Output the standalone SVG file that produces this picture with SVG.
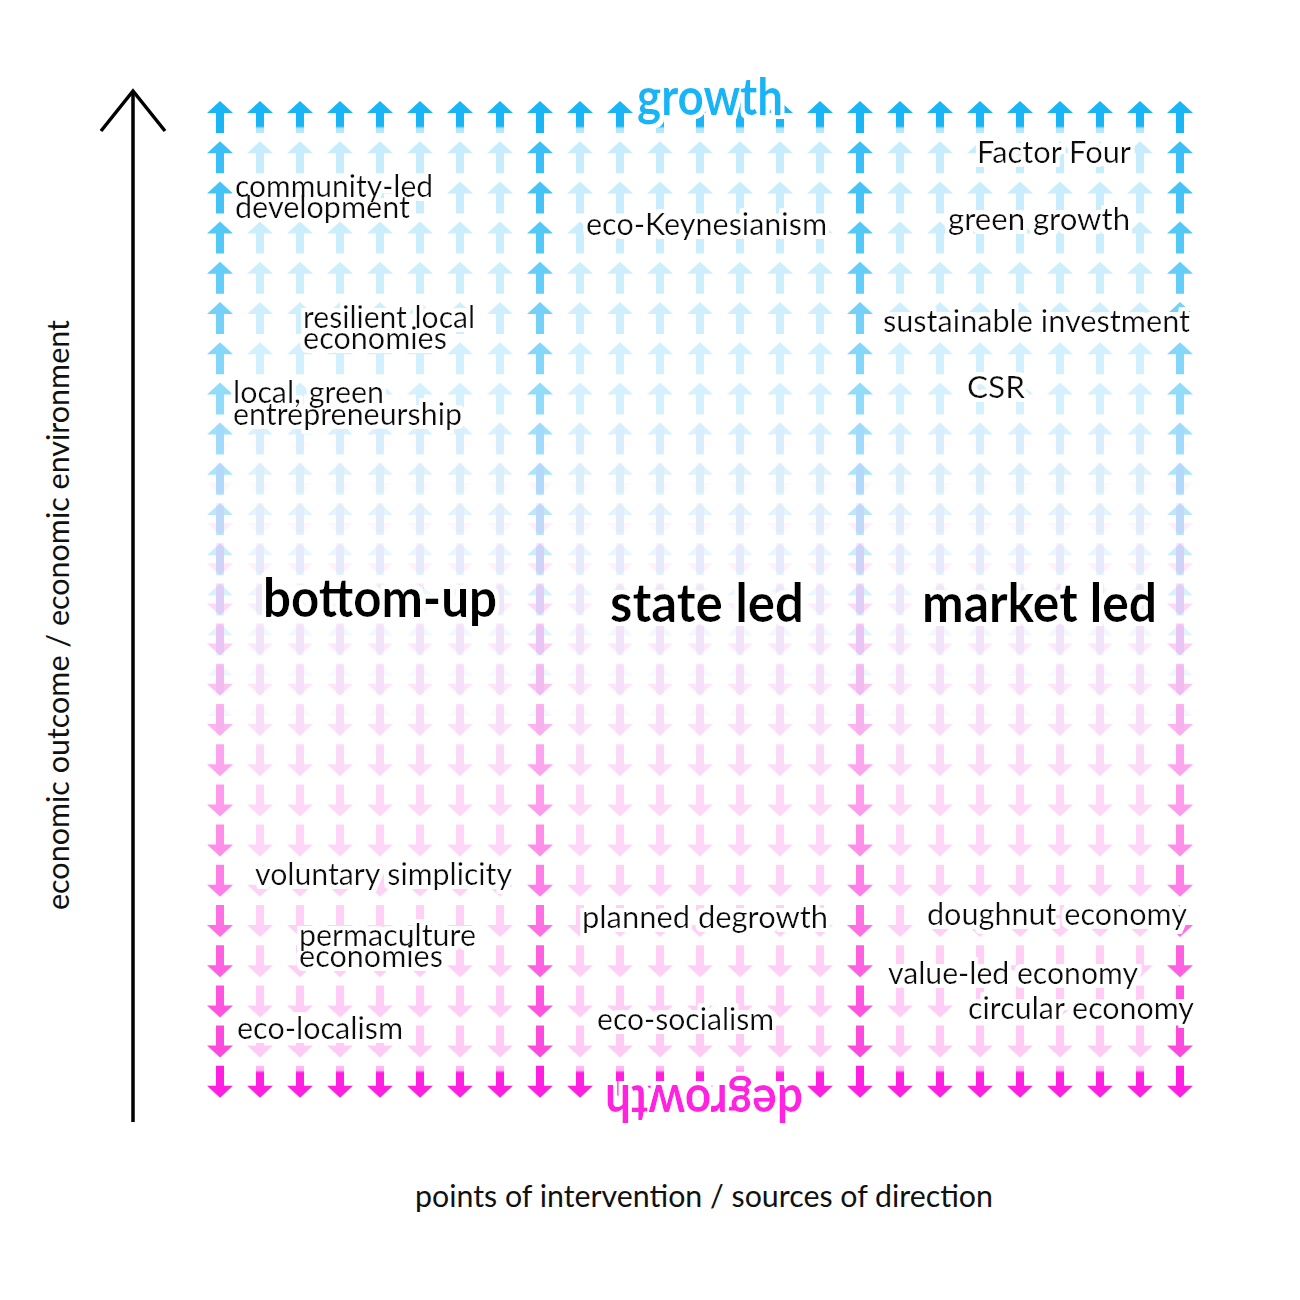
<svg xmlns="http://www.w3.org/2000/svg" xmlns:xlink="http://www.w3.org/1999/xlink" width="1300" height="1300" viewBox="0 0 1300 1300">
<style>
.lb{font-family:Lato,"Open Sans","Liberation Sans",sans-serif;font-size:30px;fill:#111}
.big{font-family:Lato,"Open Sans","Liberation Sans",sans-serif;font-size:54px;font-weight:700;fill:#000}
.pole{font-family:Lato,"Open Sans","Liberation Sans",sans-serif;font-size:52px;font-weight:700}
.ax{font-family:Lato,"Open Sans","Liberation Sans",sans-serif;font-size:30px;fill:#111}
.h{filter:url(#halo)}
.b{fill:#19b5f5}
.p{fill:#ff2ad8}
</style>
<defs>
<filter id="halo" x="-10%" y="-30%" width="120%" height="160%">
<feMorphology in="SourceAlpha" operator="dilate" radius="3.5" result="d"/>
<feFlood flood-color="#fff"/>
<feComposite in2="d" operator="in"/>
<feMerge><feMergeNode/><feMergeNode in="SourceGraphic"/></feMerge>
</filter>
<linearGradient id="gu" x1="0" y1="0" x2="0" y2="1">
<stop offset="0" stop-color="#19b5f5"/><stop offset="0.78" stop-color="#19b5f5"/><stop offset="0.86" stop-color="#19b5f5" stop-opacity="0.35"/><stop offset="1" stop-color="#19b5f5" stop-opacity="0.3"/>
</linearGradient>
<linearGradient id="gd" x1="0" y1="1" x2="0" y2="0">
<stop offset="0" stop-color="#ff1fe0"/><stop offset="0.78" stop-color="#ff1fe0"/><stop offset="0.86" stop-color="#ff1fe0" stop-opacity="0.35"/><stop offset="1" stop-color="#ff1fe0" stop-opacity="0.3"/>
</linearGradient>
<path id="au" d="M0,-16 L13,-4 L4,-4 L4,16 L-4,16 L-4,-4 L-13,-4 Z"/>
<path id="ad" d="M0,16 L13,4 L4,4 L4,-16 L-4,-16 L-4,4 L-13,4 Z"/>
<g id="upN">
<use href="#au" x="260"/><use href="#au" x="300"/><use href="#au" x="340"/><use href="#au" x="380"/><use href="#au" x="420"/><use href="#au" x="460"/><use href="#au" x="500"/>
<use href="#au" x="580"/><use href="#au" x="620"/><use href="#au" x="660"/><use href="#au" x="700"/><use href="#au" x="740"/><use href="#au" x="780"/><use href="#au" x="820"/>
<use href="#au" x="900"/><use href="#au" x="940"/><use href="#au" x="980"/><use href="#au" x="1020"/><use href="#au" x="1060"/><use href="#au" x="1100"/><use href="#au" x="1140"/>
</g>
<g id="upS"><use href="#au" x="220"/><use href="#au" x="540"/><use href="#au" x="860"/><use href="#au" x="1180"/></g>
<g id="dnN">
<use href="#ad" x="260"/><use href="#ad" x="300"/><use href="#ad" x="340"/><use href="#ad" x="380"/><use href="#ad" x="420"/><use href="#ad" x="460"/><use href="#ad" x="500"/>
<use href="#ad" x="580"/><use href="#ad" x="620"/><use href="#ad" x="660"/><use href="#ad" x="700"/><use href="#ad" x="740"/><use href="#ad" x="780"/><use href="#ad" x="820"/>
<use href="#ad" x="900"/><use href="#ad" x="940"/><use href="#ad" x="980"/><use href="#ad" x="1020"/><use href="#ad" x="1060"/><use href="#ad" x="1100"/><use href="#ad" x="1140"/>
</g>
<g id="dnS"><use href="#ad" x="220"/><use href="#ad" x="540"/><use href="#ad" x="860"/><use href="#ad" x="1180"/></g>
</defs>
<rect width="1300" height="1300" fill="#fff"/>
<g id="arrow-field">
<g id="growth-arrows" class="b">
<use href="#upN" y="117" fill="url(#gu)"/><use href="#upS" y="117"/>
<use href="#upN" y="157.2" opacity="0.24"/><use href="#upS" y="157.2" opacity="0.85"/>
<use href="#upN" y="197.4" opacity="0.23"/><use href="#upS" y="197.4" opacity="0.8"/>
<use href="#upN" y="237.6" opacity="0.22"/><use href="#upS" y="237.6" opacity="0.74"/>
<use href="#upN" y="277.8" opacity="0.21"/><use href="#upS" y="277.8" opacity="0.67"/>
<use href="#upN" y="318" opacity="0.2"/><use href="#upS" y="318" opacity="0.6"/>
<use href="#upN" y="358.2" opacity="0.19"/><use href="#upS" y="358.2" opacity="0.53"/>
<use href="#upN" y="398.4" opacity="0.18"/><use href="#upS" y="398.4" opacity="0.47"/>
<use href="#upN" y="438.6" opacity="0.16"/><use href="#upS" y="438.6" opacity="0.41"/>
<use href="#upN" y="478.8" opacity="0.14"/><use href="#upS" y="478.8" opacity="0.35"/>
<use href="#upN" y="519" opacity="0.12"/><use href="#upS" y="519" opacity="0.29"/>
<use href="#upN" y="559.2" opacity="0.1"/><use href="#upS" y="559.2" opacity="0.23"/>
<use href="#upN" y="599.4" opacity="0.08"/><use href="#upS" y="599.4" opacity="0.17"/>
<use href="#upN" y="639.6" opacity="0.06"/><use href="#upS" y="639.6" opacity="0.12"/>
<use href="#upN" y="679.8" opacity="0.04"/><use href="#upS" y="679.8" opacity="0.08"/>
<use href="#upN" y="720" opacity="0.025"/><use href="#upS" y="720" opacity="0.05"/>
<use href="#upN" y="760.2" opacity="0.01"/><use href="#upS" y="760.2" opacity="0.02"/>
</g>
<g id="degrowth-arrows" class="p">
<use href="#dnN" y="438.6" opacity="0.01"/><use href="#dnS" y="438.6" opacity="0.02"/>
<use href="#dnN" y="478.8" opacity="0.025"/><use href="#dnS" y="478.8" opacity="0.05"/>
<use href="#dnN" y="519" opacity="0.04"/><use href="#dnS" y="519" opacity="0.08"/>
<use href="#dnN" y="559.2" opacity="0.06"/><use href="#dnS" y="559.2" opacity="0.12"/>
<use href="#dnN" y="599.4" opacity="0.08"/><use href="#dnS" y="599.4" opacity="0.17"/>
<use href="#dnN" y="639.6" opacity="0.1"/><use href="#dnS" y="639.6" opacity="0.23"/>
<use href="#dnN" y="679.8" opacity="0.12"/><use href="#dnS" y="679.8" opacity="0.29"/>
<use href="#dnN" y="720" opacity="0.14"/><use href="#dnS" y="720" opacity="0.35"/>
<use href="#dnN" y="760.2" opacity="0.16"/><use href="#dnS" y="760.2" opacity="0.41"/>
<use href="#dnN" y="800.4" opacity="0.18"/><use href="#dnS" y="800.4" opacity="0.47"/>
<use href="#dnN" y="840.6" opacity="0.19"/><use href="#dnS" y="840.6" opacity="0.53"/>
<use href="#dnN" y="880.8" opacity="0.2"/><use href="#dnS" y="880.8" opacity="0.6"/>
<use href="#dnN" y="921" opacity="0.21"/><use href="#dnS" y="921" opacity="0.67"/>
<use href="#dnN" y="961.2" opacity="0.22"/><use href="#dnS" y="961.2" opacity="0.74"/>
<use href="#dnN" y="1001.4" opacity="0.23"/><use href="#dnS" y="1001.4" opacity="0.8"/>
<use href="#dnN" y="1041.6" opacity="0.24"/><use href="#dnS" y="1041.6" opacity="0.85"/>
<use href="#dnN" y="1081.8" fill="url(#gd)"/><use href="#dnS" y="1081.8" fill="#ff1fe0"/>
</g>
</g>
<g id="connectors">
<line x1="133" y1="93" x2="133" y2="1122" stroke="#000" stroke-width="3.5"/>
<polyline points="101,131 133,91 165,131" fill="none" stroke="#000" stroke-width="3.5"/>
</g>
<g id="axis-labels">
<text class="ax" transform="translate(69,615) rotate(-90)" text-anchor="middle" textLength="590" lengthAdjust="spacingAndGlyphs">economic outcome / economic environment</text>
<text class="ax" x="415" y="1207" textLength="578" lengthAdjust="spacingAndGlyphs">points of intervention / sources of direction</text>
</g>
<g id="pole-growth" class="h"><text class="pole" x="637" y="115" fill="#19b5f5" textLength="146" lengthAdjust="spacingAndGlyphs">growth</text></g>
<g id="pole-degrowth" class="h"><text class="pole" transform="translate(803,1085) rotate(180)" fill="#ff22e0" textLength="198" lengthAdjust="spacingAndGlyphs">degrowth</text></g>
<g id="col-bottom-up" class="h"><text class="big" x="263" y="617" textLength="234" lengthAdjust="spacingAndGlyphs">bottom-up</text></g>
<g id="col-state-led" class="h"><text class="big" x="610" y="622" textLength="194" lengthAdjust="spacingAndGlyphs">state led</text></g>
<g id="col-market-led" class="h"><text class="big" x="922" y="622" textLength="235" lengthAdjust="spacingAndGlyphs">market led</text></g>
<g id="community-led-development" class="h">
<text class="lb" x="235" y="197" textLength="198" lengthAdjust="spacingAndGlyphs">community-led</text>
<text class="lb" x="235" y="218" textLength="175" lengthAdjust="spacingAndGlyphs">development</text>
</g>
<g id="eco-keynesianism" class="h"><text class="lb" x="586" y="235" textLength="241" lengthAdjust="spacingAndGlyphs">eco-Keynesianism</text></g>
<g id="factor-four" class="h"><text class="lb" x="977" y="163" textLength="154" lengthAdjust="spacingAndGlyphs">Factor Four</text></g>
<g id="green-growth" class="h"><text class="lb" x="948" y="230" textLength="182" lengthAdjust="spacingAndGlyphs">green growth</text></g>
<g id="resilient-local-economies" class="h">
<text class="lb" x="303" y="328" textLength="172" lengthAdjust="spacingAndGlyphs">resilient local</text>
<text class="lb" x="303" y="349" textLength="144" lengthAdjust="spacingAndGlyphs">economies</text>
</g>
<g id="sustainable-investment" class="h"><text class="lb" x="883" y="332" textLength="307" lengthAdjust="spacingAndGlyphs">sustainable investment</text></g>
<g id="csr" class="h"><text class="lb" x="967" y="398" textLength="58" lengthAdjust="spacingAndGlyphs">CSR</text></g>
<g id="local-green-entrepreneurship" class="h">
<text class="lb" x="233" y="403" textLength="151" lengthAdjust="spacingAndGlyphs">local, green</text>
<text class="lb" x="233" y="425" textLength="229" lengthAdjust="spacingAndGlyphs">entrepreneurship</text>
</g>
<g id="voluntary-simplicity" class="h"><text class="lb" x="255" y="885" textLength="257" lengthAdjust="spacingAndGlyphs">voluntary simplicity</text></g>
<g id="planned-degrowth" class="h"><text class="lb" x="582" y="928" textLength="246" lengthAdjust="spacingAndGlyphs">planned degrowth</text></g>
<g id="doughnut-economy" class="h"><text class="lb" x="927" y="925" textLength="260" lengthAdjust="spacingAndGlyphs">doughnut economy</text></g>
<g id="permaculture-economies" class="h">
<text class="lb" x="299" y="946" textLength="177" lengthAdjust="spacingAndGlyphs">permaculture</text>
<text class="lb" x="299" y="967" textLength="144" lengthAdjust="spacingAndGlyphs">economies</text>
</g>
<g id="value-led-economy" class="h"><text class="lb" x="888" y="984" textLength="250" lengthAdjust="spacingAndGlyphs">value-led economy</text></g>
<g id="circular-economy" class="h"><text class="lb" x="968" y="1019" textLength="226" lengthAdjust="spacingAndGlyphs">circular economy</text></g>
<g id="eco-localism" class="h"><text class="lb" x="237" y="1039" textLength="166" lengthAdjust="spacingAndGlyphs">eco-localism</text></g>
<g id="eco-socialism" class="h"><text class="lb" x="597" y="1030" textLength="177" lengthAdjust="spacingAndGlyphs">eco-socialism</text></g>
</svg>
